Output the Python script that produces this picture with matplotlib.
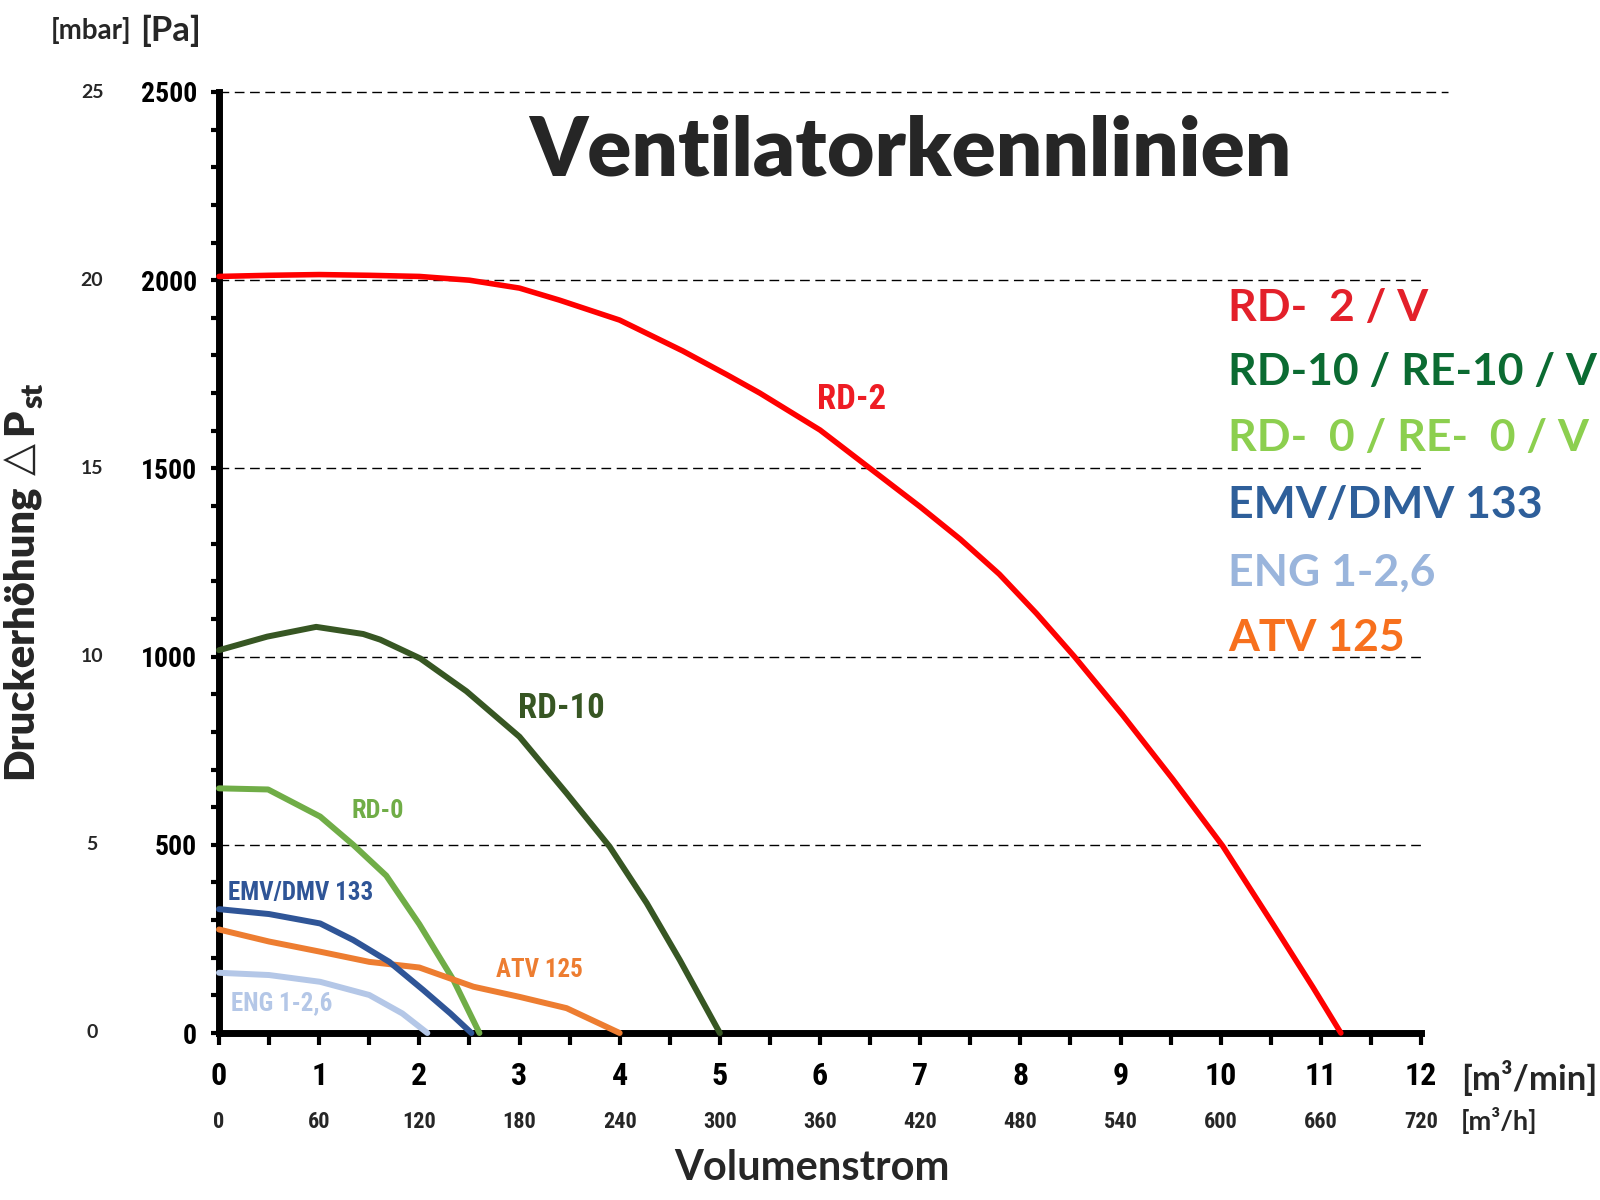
import matplotlib
matplotlib.use('Agg')
import matplotlib.pyplot as plt
from matplotlib import font_manager as fm
from matplotlib.ticker import MultipleLocator
import matplotlib.transforms as mtransforms

# ---------------- data ----------------
flow_min_ticks = [0, 1, 2, 3, 4, 5, 6, 7, 8, 9, 10, 11, 12]          # m³/min
flow_h_labels = ['0', '60', '120', '180', '240', '300', '360', '420',
                 '480', '540', '600', '660', '720']                  # m³/h
pa_ticks = [0, 500, 1000, 1500, 2000, 2500]                          # Pa
mbar_labels = ['0', '5', '10', '15', '20', '25']                     # mbar

rd2_x = [0, 0.5, 1.0, 1.5, 2.0, 2.5, 3.0, 3.4, 4.0, 4.63, 5.07, 5.4, 6.0, 6.5,
         7.0, 7.4, 7.79, 8.16, 8.54, 9.02, 9.52, 10.02, 10.52, 10.92, 11.2]
rd2_y = [2010, 2013, 2015, 2013, 2010, 2000, 1979, 1947, 1894, 1812, 1749, 1700,
         1602, 1500, 1398, 1312, 1219, 1115, 1000, 845, 675, 497, 290, 122, 0]

rd10_x = [0, 0.48, 0.97, 1.44, 1.61, 2.01, 2.47, 3.0, 3.47, 3.90, 4.27, 4.60, 5.0]
rd10_y = [1017, 1053, 1079, 1060, 1045, 995, 908, 787, 637, 495, 345, 194, 0]

rd0_x = [0, 0.49, 1.01, 1.34, 1.67, 2.0, 2.34, 2.6]
rd0_y = [650, 647, 575, 500, 418, 289, 141, 0]

emv_x = [0, 0.5, 1.01, 1.34, 1.7, 2.04, 2.31, 2.52]
emv_y = [329, 316, 291, 247, 189, 114, 52, 0]

eng_x = [0, 0.5, 1.01, 1.5, 1.83, 2.08]
eng_y = [160, 154, 136, 101, 52, 0]

atv_x = [0, 0.5, 1.01, 1.5, 2.0, 2.54, 3.0, 3.47, 4.0]
atv_y = [275, 243, 216, 189, 174, 123, 96, 66, 0]

legend_names = ['RD-  2 / V', 'RD-10 / RE-10 / V', 'RD-  0 / RE-  0 / V',
                'EMV/DMV 133', 'ENG 1-2,6', 'ATV 125']
legend_colors = ['#e3202a', '#0b6b32', '#8ccf4f', '#2e5f9a', '#9ab5dc', '#f7701d']

# ---------------- fonts ----------------
names = {f.name for f in fm.fontManager.ttflist}
NARROW = 'Liberation Sans'
for cand in ['Liberation Sans Narrow', 'Arial Narrow', 'Roboto Condensed',
             'Open Sans Condensed', 'Noto Sans Condensed', 'DejaVu Sans Condensed']:
    if cand in names:
        NARROW = cand
        break
GEO = 'Lato' if 'Lato' in names else 'DejaVu Sans'
DARK = '#262626'

W, H = 1600, 1200
fig = plt.figure(figsize=(16, 12), dpi=100)
fig.patch.set_facecolor('white')

def fx(px):
    return px / W

def fy(py):
    return 1 - py / H

ax = fig.add_axes([fx(219), fy(1033), (1421 - 219) / W, (1033 - 92) / H])
ax.set_xlim(0, 12)
ax.set_ylim(0, 2500)

for s in ['top', 'right']:
    ax.spines[s].set_visible(False)
for s in ['left', 'bottom']:
    ax.spines[s].set_linewidth(5)
    ax.spines[s].set_color('black')

# grid lines (dashed)
for v in pa_ticks[1:]:
    xmax = 12.27 if v == pa_ticks[-1] else 12
    ax.plot([0, xmax], [v, v], color='black', lw=1.0, ls=(0, (7, 4)),
            clip_on=False, zorder=1)

# curves
curves = [
    (rd2_x, rd2_y, '#ff0000', 4.0),
    (rd10_x, rd10_y, '#375623', 4.3),
    (rd0_x, rd0_y, '#70ad47', 4.3),
    (atv_x, atv_y, '#ed7d31', 4.3),
    (emv_x, emv_y, '#2f5597', 4.3),
    (eng_x, eng_y, '#b4c7e7', 4.3),
]
for xs, ys, c, lw in curves:
    ax.plot(xs, ys, color=c, lw=lw, solid_capstyle='round',
            solid_joinstyle='round', zorder=3, clip_on=False)

# ticks
ax.set_xticks(flow_min_ticks, labels=[str(v) for v in flow_min_ticks])
ax.xaxis.set_minor_locator(MultipleLocator(0.5))
ax.tick_params(axis='x', which='both', direction='out', length=8.5, width=3,
               color='black')
ax.tick_params(axis='x', which='major', pad=12)
ax.set_yticks(pa_ticks, labels=[str(v) for v in pa_ticks])
ax.yaxis.set_minor_locator(MultipleLocator(100))
ax.tick_params(axis='y', which='both', direction='out', length=6, width=3,
               color='black')
ax.tick_params(axis='y', which='major', pad=10)
for lab in ax.get_xticklabels():
    lab.set_fontfamily(NARROW)
    lab.set_fontweight('bold')
    lab.set_fontsize(23)
    lab.set_color('black')
for lab in ax.get_yticklabels():
    lab.set_fontfamily(NARROW)
    lab.set_fontweight('bold')
    lab.set_fontsize(20)
    lab.set_color('black')

# secondary labels m³/h
tb = mtransforms.blended_transform_factory(ax.transData, ax.transAxes)
for v, lab in zip(flow_min_ticks, flow_h_labels):
    ax.text(v, (1033 - 1122) / 941, lab, transform=tb, ha='center', va='center',
            fontfamily=NARROW, fontweight='bold', fontsize=16, color=DARK)

# secondary labels mbar
tl = mtransforms.blended_transform_factory(ax.transAxes, ax.transData)
for v, lab in zip(pa_ticks, mbar_labels):
    ax.text((92 - 219) / 1202, v, lab, transform=tl, ha='center', va='center',
            fontfamily=GEO, fontweight='bold', fontsize=14, color=DARK)

# unit texts
fig.text(fx(91), fy(31), '[mbar]', ha='center', va='center', fontfamily=GEO,
         fontweight='bold', fontsize=20, color=DARK)
fig.text(fx(171), fy(31), '[Pa]', ha='center', va='center', fontfamily=GEO,
         fontweight='bold', fontsize=25, color=DARK)
fig.text(fx(1461), fy(1078), '[m³/min]', ha='left', va='center', fontfamily=GEO,
         fontweight='bold', fontsize=25, color=DARK)
fig.text(fx(1461), fy(1120), '[m³/h]', ha='left', va='center', fontfamily=GEO,
         fontweight='bold', fontsize=19.5, color=DARK)
fig.text(fx(812), fy(1168), 'Volumenstrom', ha='center', va='center',
         fontfamily=GEO, fontweight='bold', fontsize=30, color=DARK)

# title
fig.text(fx(910), fy(175), 'Ventilatorkennlinien', ha='center', va='baseline',
         fontfamily=GEO, fontweight='heavy', fontsize=59, color=DARK)

# legend on the right
leg_base = [321, 385, 451, 518, 586, 651]
for name, col, yb in zip(legend_names, legend_colors, leg_base):
    fig.text(fx(1228), fy(yb), name, ha='left', va='baseline', fontfamily=GEO,
             fontweight='bold', fontsize=32, color=col)

# curve labels
labels = [
    ('RD-2', 6.32, 1684, '#ee1c24', 25, 'center'),
    ('RD-10', 3.42, 863, '#375623', 25, 'center'),
    ('RD-0', 1.58, 590, '#70ad47', 19, 'center'),
    ('EMV/DMV 133', 0.09, 372, '#2f5597', 18, 'left'),
    ('ATV 125', 3.2, 167, '#ed7d31', 18, 'center'),
    ('ENG 1-2,6', 0.12, 80, '#b4c7e7', 18, 'left'),
]
for t, x, y, c, fs, ha in labels:
    ax.text(x, y, t, color=c, fontsize=fs, fontfamily=NARROW, fontweight='bold',
            ha=ha, va='center', zorder=4)

# rotated y label built from pieces
renderer = fig.canvas.get_renderer()
pieces = [
    ('Druckerhöhung', dict(fontfamily=GEO, fontweight='heavy', fontsize=30), 0, 0),
    ('△', dict(fontfamily='DejaVu Sans', fontweight='normal', fontsize=30), 0, 10),
    ('P', dict(fontfamily=GEO, fontweight='heavy', fontsize=30), 0, 8),
    ('st', dict(fontfamily=GEO, fontweight='heavy', fontsize=22), 11, 0),
]
ypos = H - 779
for txt, kw, dx, gap in pieces:
    ypos += gap
    t = fig.text(fx(32 + dx), ypos / H, txt, rotation=90, rotation_mode='anchor',
                 ha='left', va='baseline', color=DARK, **kw)
    bb = t.get_window_extent(renderer)
    ypos = bb.y1

fig.savefig('out.png', dpi=100, facecolor='white')
